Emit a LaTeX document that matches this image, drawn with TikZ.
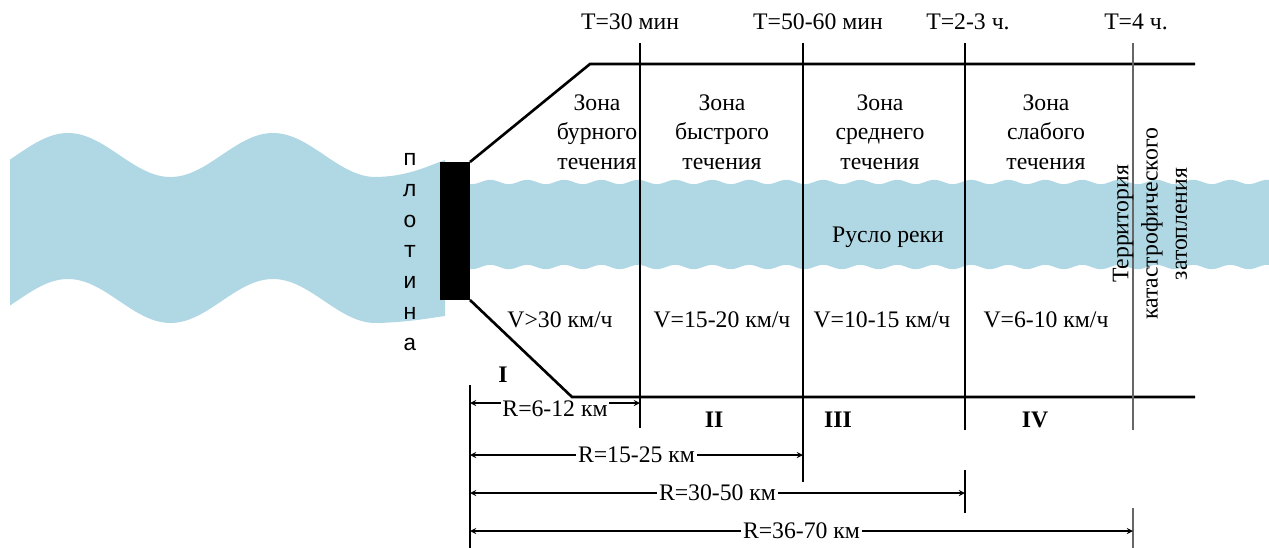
\documentclass[tikz,border=0pt]{standalone}
\usepackage{fontspec}
\setmainfont{Liberation Serif}
\newfontfamily\damfont{Liberation Mono}
\usepackage{tikz}
\usetikzlibrary{
  arrows,
  calc,
  positioning
}
\definecolor{riverblue}{RGB}{176,216,228}
\tikzset{>=stealth}
\tikzset{
  river/.style={fill=riverblue, draw=none},
  wall/.style={line width=1.5pt},
  zoneline/.style={line width=0.7pt},
  endline/.style={line width=0.9pt, draw=black!60},
  dim/.style={<->, line width=0.6pt},
  dimlabel/.style={fill=white, inner sep=1pt},
  zonetext/.style={align=center, font=\fontsize{13.5}{16.7}\selectfont},
  plain/.style={font=\fontsize{13.5}{16.7}\selectfont},
  roman/.style={font=\fontsize{13.5}{16.7}\selectfont\bfseries}
}

\begin{document}
\begin{tikzpicture}[x=0.02cm, y=-0.02cm]
  \useasboundingbox (0,0) rectangle (1269,548);
  % river before the dam
  \fill[river] plot[domain=10:378, samples=120] (\x, {155-22*cos(1.7561*(\x-68))})
    .. controls (410,176) and (430,165) .. (445,160) -- (445,316)
    .. controls (430,318) and (410,322) .. (378,323)
    -- plot[domain=378:10, samples=120] (\x, {301-22*cos(1.7561*(\x-68))}) -- cycle;
  % river bed
  \fill[river] plot[domain=455:1269, samples=240] (\x, {182-2.2*sin(9.7297*\x)})
    -- plot[domain=1269:455, samples=240] (\x, {267-2.2*sin(9.7297*\x)}) -- cycle;

  % dam
  \coordinate (damTL) at (440,162);
  \coordinate (damBR) at (470,300);
  \fill (damTL) rectangle (damBR);
  \coordinate (A) at (470,162);
  \coordinate (B) at (590,64);
  \coordinate (C) at (1195,64);
  \coordinate (D) at (470,300);
  \coordinate (E) at (572,397);
  \coordinate (F) at (1195,397);
  \draw[wall] (A)--(B)--(C);
  \draw[wall] (D)--(E)--(F);

  % zone borders
  \coordinate (z1t) at (640,43);   \coordinate (z1b) at (640,428);
  \coordinate (z2t) at (803,43);   \coordinate (z2b) at (803,482);
  \coordinate (z3t) at (965,43);   \coordinate (z3b) at (965,430);
  \coordinate (z3u) at (965,470);  \coordinate (z3v) at (965,513);
  \coordinate (z4t) at (1133,43);  \coordinate (z4b) at (1133,430);
  \coordinate (z4u) at (1133,508); \coordinate (z4v) at (1133,548);
  \coordinate (z0t) at (470,385);  \coordinate (z0b) at (470,548);
  \draw[zoneline] (z1t)--(z1b);
  \draw[zoneline] (z2t)--(z2b);
  \draw[zoneline] (z3t)--(z3b);
  \draw[zoneline] (z3u)--(z3v);
  \draw[endline] (z4t)--(z4b);
  \draw[endline] (z4u)--(z4v);
  \draw[zoneline] (z0t)--(z0b);

  % times
  \node[plain] (T1) at (630,22) {T=30 мин};
  \node[plain] (T2) at (818,22) {T=50-60 мин};
  \node[plain] (T3) at (968,22) {T=2-3 ч.};
  \node[plain] (T4) at (1136,22) {T=4 ч.};

  % zones
  \node[zonetext] (zone1) at (597,132) {Зона\\бурного\\течения};
  \node[zonetext] (zone2) at (722,132) {Зона\\быстрого\\течения};
  \node[zonetext] (zone3) at (880,132) {Зона\\среднего\\течения};
  \node[zonetext] (zone4) at (1046,132) {Зона\\слабого\\течения};
  \node[plain] (bed) at (888,237) {Русло реки};

  % speeds
  \node[plain] (v1) at (560,320) {V>30 км/ч};
  \node[plain] (v2) at (722,320) {V=15-20 км/ч};
  \node[plain] (v3) at (882,320) {V=10-15 км/ч};
  \node[plain] (v4) at (1046,320) {V=6-10 км/ч};

  \node[align=center, font=\fontsize{13}{17.6}\selectfont\damfont] (dam) at (410,252) {п\\л\\о\\т\\и\\н\\а};
  \node[zonetext, rotate=90] (flood) at (1150,224) {Территория\\катастрофического\\затопления};

  % roman numbers
  \node[roman] (I) at (503,375) {I};
  \node[roman] (II) at (714,420) {II};
  \node[roman] (III) at (838,420) {III};
  \node[roman] (IV) at (1035,420) {IV};

  % distances
  \coordinate (r1s) at (470,403); \coordinate (r1e) at (640,403);
  \coordinate (r2s) at (470,455); \coordinate (r2e) at (803,455);
  \coordinate (r3s) at (470,493); \coordinate (r3e) at (965,493);
  \coordinate (r4s) at (470,531); \coordinate (r4e) at (1133,531);
  \draw[dim] (r1s) -- node[dimlabel, plain, yshift=-3pt] (R1) {R=6-12 км} (r1e);
  \draw[dim] (r2s) -- node[dimlabel, plain] (R2) {R=15-25 км} (r2e);
  \draw[dim] (r3s) -- node[dimlabel, plain] (R3) {R=30-50 км} (r3e);
  \draw[dim] (r4s) -- node[dimlabel, plain] (R4) {R=36-70 км} (r4e);
\end{tikzpicture}
\end{document}
